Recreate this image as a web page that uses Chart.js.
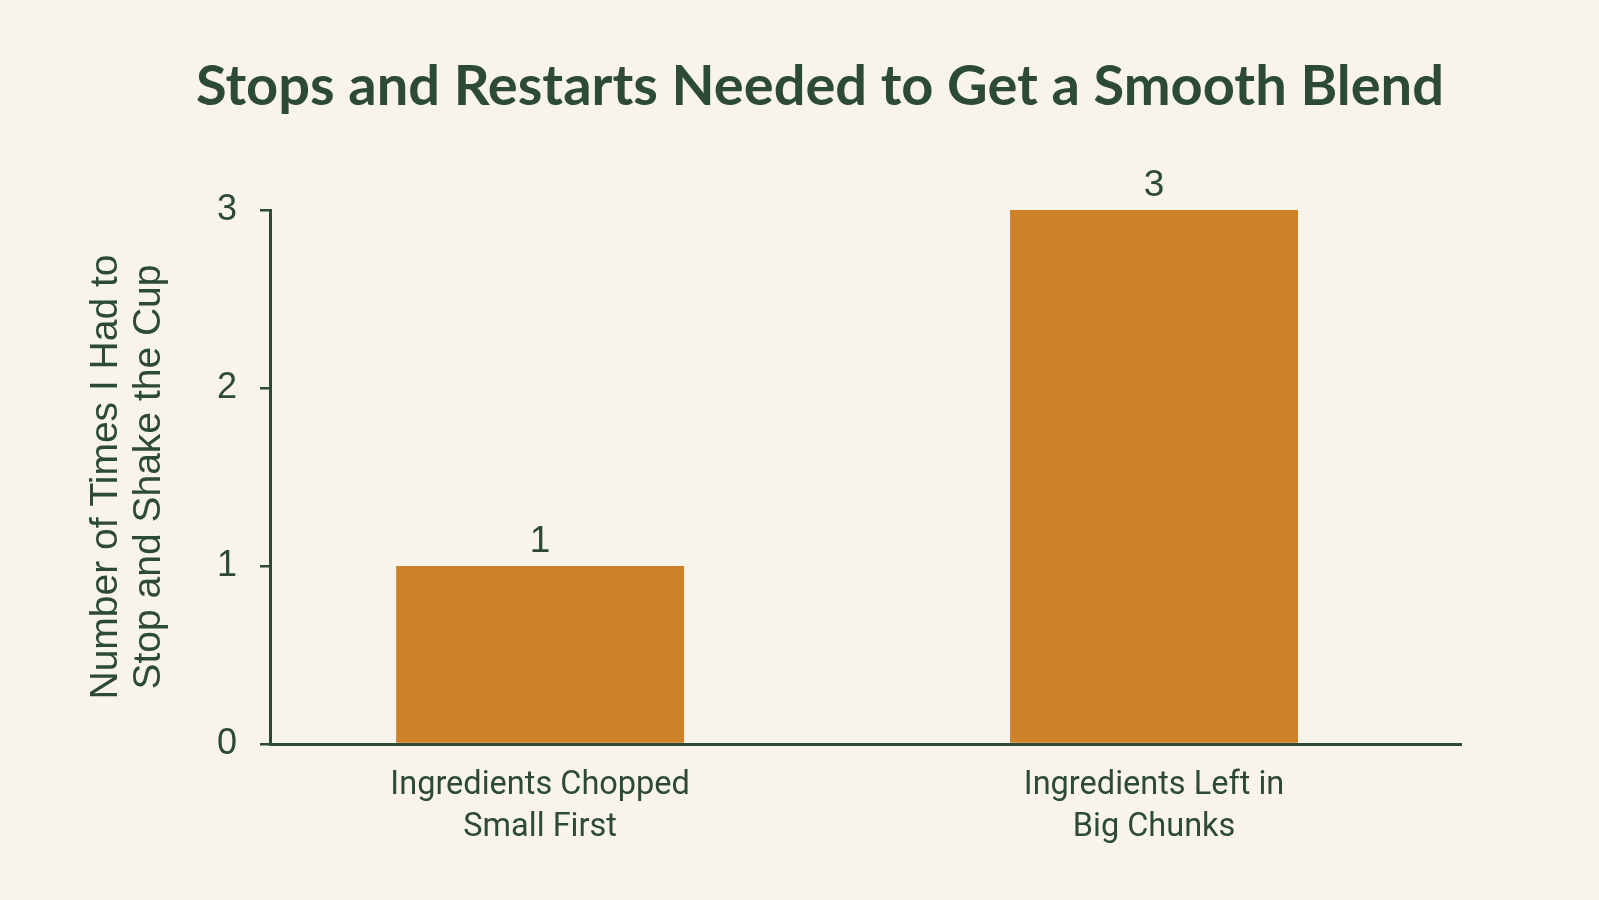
<!DOCTYPE html>
<html>
<head>
<meta charset="utf-8">
<title>Stops and Restarts Needed to Get a Smooth Blend</title>
<script src="https://cdn.jsdelivr.net/npm/chart.js@4.4.1/dist/chart.umd.min.js"></script>
<style>
  html, body { margin: 0; padding: 0; background: #f8f4ec; }
  canvas { display: block; }
</style>
</head>
<body>
<canvas id="chart" width="1599" height="900"></canvas>
<script>
const chartTitle = "Stops and Restarts Needed to Get a Smooth Blend";
const categories = [
  ["Ingredients Chopped", "Small First"],
  ["Ingredients Left in", "Big Chunks"],
];
const stopCounts = [1, 3];
const yTicks = [0, 1, 2, 3];
const yAxisTitle = ["Number of Times I Had to", "Stop and Shake the Cup"];

const ink = "#2d4a36";
const barColor = "#cd822a";
const paper = "#f8f4ec";

// paint the cream background onto the canvas itself
const paperPlugin = {
  id: "paper",
  beforeDraw(chart) {
    const ctx = chart.ctx;
    ctx.save();
    ctx.fillStyle = paper;
    ctx.fillRect(0, 0, chart.width, chart.height);
    ctx.restore();
  },
};

// title centred over the whole picture, not just the plot
const titlePlugin = {
  id: "bigTitle",
  afterDraw(chart) {
    const ctx = chart.ctx;
    ctx.save();
    ctx.fillStyle = ink;
    ctx.font = "bold 56px Lato";
    ctx.textAlign = "center";
    ctx.textBaseline = "alphabetic";
    ctx.fillText(chartTitle, 820, 105);
    ctx.restore();
  },
};

// value written above each bar
const valueLabels = {
  id: "valueLabels",
  afterDatasetsDraw(chart) {
    const ctx = chart.ctx;
    const meta = chart.getDatasetMeta(0);
    ctx.save();
    ctx.fillStyle = ink;
    ctx.font = "37px 'Liberation Sans'";
    ctx.textAlign = "center";
    ctx.textBaseline = "alphabetic";
    meta.data.forEach((bar, i) => {
      ctx.fillText(String(stopCounts[i]), bar.x, bar.y - 14);
    });
    ctx.restore();
  },
};

new Chart(document.getElementById("chart"), {
  type: "bar",
  data: {
    datasets: [
      {
        data: stopCounts.map((v, i) => ({ x: i, y: v })),
        backgroundColor: barColor,
        borderWidth: 0,
        categoryPercentage: 1,
        barPercentage: 0.469,
      },
    ],
  },
  options: {
    responsive: false,
    animation: false,
    devicePixelRatio: 1,
    layout: { padding: { top: 210, right: 138, bottom: 0, left: 0 } },
    plugins: {
      legend: { display: false },
      tooltip: { enabled: false },
      title: { display: false },
    },
    scales: {
      x: {
        type: "linear",
        min: -0.44,
        max: 1.5,
        bounds: "data",
        offset: false,
        afterBuildTicks(scale) {
          scale.ticks = categories.map((_, i) => ({ value: i }));
        },
        afterFit(scale) {
          scale.height = 156;
        },
        ticks: {
          callback: (value) => categories[value],
          color: ink,
          font: { family: "Roboto", size: 32.5, lineHeight: 1.28 },
          padding: 21,
          maxRotation: 0,
          autoSkip: false,
        },
        grid: { display: false, drawTicks: false },
        border: { color: ink, width: 3 },
      },
      y: {
        min: 0,
        max: 3,
        afterBuildTicks(scale) {
          scale.ticks = yTicks.map((v) => ({ value: v }));
        },
        afterFit(scale) {
          scale.width = 270;
        },
        ticks: {
          color: ink,
          font: { family: "Liberation Sans", size: 36 },
          padding: 23,
        },
        grid: {
          drawOnChartArea: false,
          drawTicks: true,
          tickLength: 10,
          color: ink,
          lineWidth: 2.5,
        },
        border: { color: ink, width: 3 },
        title: {
          display: true,
          text: yAxisTitle,
          color: ink,
          font: { family: "Liberation Sans", size: 39, lineHeight: 1.12 },
          padding: { top: 84, bottom: 0 },
        },
      },
    },
  },
  plugins: [paperPlugin, titlePlugin, valueLabels],
});
</script>
</body>
</html>
